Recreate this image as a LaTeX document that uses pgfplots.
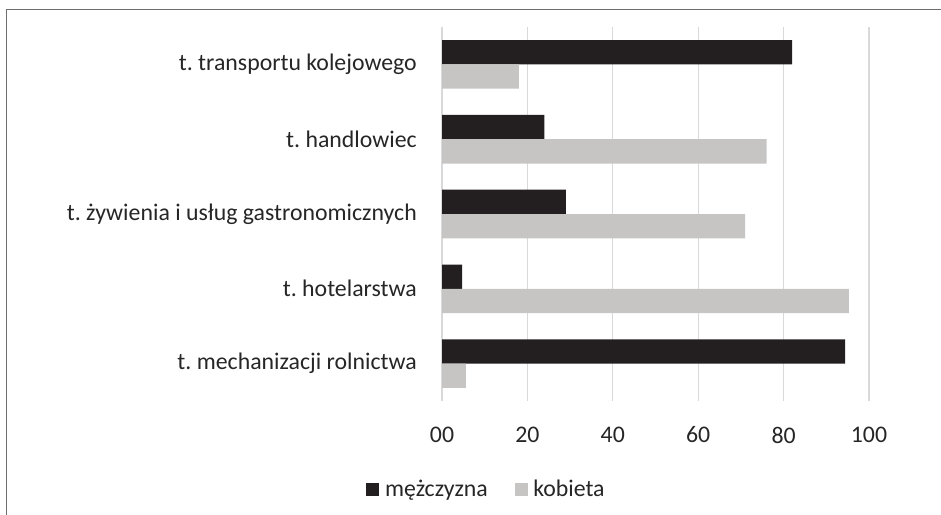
\documentclass[border=0pt]{standalone}
\usepackage{pgfplots}
\pgfplotsset{compat=1.18}
\usepackage{fontspec}
\setmainfont{Carlito}
\frenchspacing
\definecolor{darkbar}{HTML}{231F20}
\definecolor{lightbar}{HTML}{C6C5C4}
\definecolor{gridc}{HTML}{D9D9D9}
\definecolor{txt}{HTML}{262626}
\definecolor{framec}{HTML}{6E6E6E}
\begin{document}
\begin{tikzpicture}
\path[use as bounding box] (0bp,0bp) rectangle (941bp,515bp);
\draw[framec, line width=1.5bp] (6.5bp,-5bp) -- (6.5bp,505.5bp) -- (950bp,505.5bp);
\begin{axis}[
 at={(442bp,114bp)}, anchor=south west,
 scale only axis, width=427bp, height=374bp,
 xbar, bar width=24.3bp,
 xmin=0, xmax=100, ymin=-0.5, ymax=4.5, y dir=reverse,
 xtick={0,20,40,60,80,100}, xticklabels={00,20,40,60,80,100},
 ytick={0,1,2,3,4},
 yticklabels={t. transportu kolejowego, t. handlowiec, t. żywienia i usług gastronomicznych, t. hotelarstwa, t. mechanizacji rolnictwa},
 xmajorgrids, major grid style={gridc, line width=1.3bp},
 axis line style={draw=none}, major tick length=0pt,
 /pgf/number format/assume math mode=true,
 tick label style={font=\fontsize{23.9}{28}\selectfont, text=txt},
 yticklabel style={inner sep=0pt, anchor=east, xshift=-25bp},
 xticklabel style={inner sep=0pt, anchor=north, yshift=-25.7bp},
 legend columns=2,
 legend style={at={(axis description cs:0.102,-0.2353)}, anchor=center, draw=none, fill=none,
   inner sep=0pt, font=\fontsize{23.9}{28}\selectfont, text=txt,
   nodes={inner sep=0pt}},
 /tikz/every odd column/.append style={column sep=5.7bp},
 /tikz/every even column/.append style={column sep=26.7bp},
 legend image code/.code={\fill[#1] (0bp,-6.5bp) rectangle (13bp,6.5bp);},
]
\addplot[fill=darkbar, draw=none, bar shift=12.15bp] coordinates {(82,0) (24,1) (29,2) (4.7,3) (94.4,4)};
\addplot[fill=lightbar, draw=none, bar shift=-12.15bp] coordinates {(18,0) (76,1) (71,2) (95.3,3) (5.6,4)};
\legend{mężczyzna, kobieta}
\end{axis}
\end{tikzpicture}
\end{document}
